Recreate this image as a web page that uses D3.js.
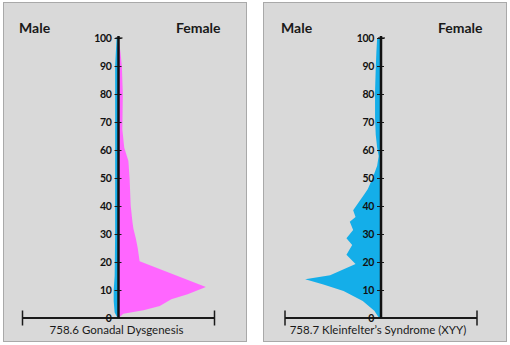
<!DOCTYPE html>
<html><head><meta charset="utf-8">
<script src="https://cdn.jsdelivr.net/npm/d3@7"></script>
<style>
html,body{margin:0;padding:0;background:#fff;}
svg{display:block;}
</style></head>
<body>
<svg id="c" width="510" height="345"></svg>
<script>
// ---- data ----
const yTicks = [0,10,20,30,40,50,60,70,80,90,100];
const sideLabels = ["Male","Female"];
const chartTitles = ["758.6 Gonadal Dysgenesis","758.7 Kleinfelter\u2019s Syndrome (XYY)"];

// Panel 1: Gonadal Dysgenesis
const gonadalFemaleAge = [0,1.5,2.8,4.3,6.7,8.5,11.1,20.3,25,28.5,32,34.4,40.2,49.6,56.1,60.8,67.3,80,90,95,100];
const gonadalFemaleVal = [0,5,26,43,55,72,91,22,20,18,15.5,14.5,12.7,11.6,10.3,6,4,4.5,3.5,2,0];
const gonadalMaleAge = [0,2,6,10,15,30,60,90,100];
const gonadalMaleVal = [1,4,5,5,4,3.5,3.5,3.5,2];

// Panel 2: Kleinfelter's Syndrome
const kleinMaleAge = [0,2.6,6.1,9.6,12,13.8,15.3,19.3,22.6,26.1,28.5,31.4,34.4,36.1,38.5,44.4,46.1,50.2,54.4,57.9,60.8,65.5,71.4,81,89,95,100];
const kleinMaleVal = [2,7,19,39,60,79,53,26.5,36,30,36,29,32.5,26.5,29,17,13.7,8.5,4,2.4,4,5.5,6.2,6.2,5.5,4.8,4];
const kleinFemaleAge = [];
const kleinFemaleVal = [];

// ---- layout ----
const panels = [
  {x0:3, x1:247, cx:118.5, title:chartTitles[0], tdx:-2,
   male: gonadalMaleAge.map((a,i)=>({age:a,v:gonadalMaleVal[i]})),
   female: gonadalFemaleAge.map((a,i)=>({age:a,v:gonadalFemaleVal[i]})),
   maleLbl:19, femLbl:176},
  {x0:263, x1:507, cx:381, title:chartTitles[1], tdx:-3,
   male: kleinMaleAge.map((a,i)=>({age:a,v:kleinMaleVal[i]})),
   female: kleinFemaleAge.map((a,i)=>({age:a,v:kleinFemaleVal[i]})),
   maleLbl:281, femLbl:438}
];
const PINK = "#ff66ff", BLUE = "#14aee9";

const svg = d3.select("#c");
const y = d3.scaleLinear().domain([0,100]).range([318,38]);

panels.forEach(p=>{
  const g = svg.append("g");
  g.append("rect").attr("x",p.x0+0.5).attr("y",2.5).attr("width",p.x1-p.x0-1).attr("height",339)
    .attr("fill","#d9d9d9").attr("stroke","#a9a9a9").attr("stroke-width",1);

  const x = d3.scaleLinear().domain([-100,100]).range([p.cx-96,p.cx+96]);

  const femArea = d3.area().x0(x(0)).x1(d=>x(d.v)).y(d=>y(d.age));
  const maleArea = d3.area().x0(x(0)).x1(d=>x(-d.v)).y(d=>y(d.age));
  if (p.female.length) g.append("path").datum(p.female).attr("d",femArea).attr("fill",PINK);
  if (p.male.length) g.append("path").datum(p.male).attr("d",maleArea).attr("fill",BLUE);

  // horizontal base line with end caps
  const y0 = y(0);
  g.append("line").attr("x1",x(-100)).attr("x2",x(100)).attr("y1",y0).attr("y2",y0)
    .attr("stroke","#1a1a1a").attr("stroke-width",2);
  [-100,100].forEach(v=>{
    g.append("line").attr("x1",x(v)).attr("x2",x(v)).attr("y1",y0-7.5).attr("y2",y0+7.5)
      .attr("stroke","#1a1a1a").attr("stroke-width",1.5);
  });

  // vertical axis
  const ax = g.append("g").attr("transform",`translate(${x(0)},0)`)
    .call(d3.axisLeft(y).tickValues(yTicks).tickSize(4).tickPadding(3).tickFormat(d3.format("d")));
  ax.select(".domain").remove();
  ax.selectAll(".tick line").attr("stroke","#1a1a1a").attr("x2",-4).attr("x1",3);
  ax.selectAll(".tick text").attr("font-family","Lato, 'Open Sans', sans-serif")
    .attr("font-weight","bold").attr("font-size","10.5px").attr("letter-spacing","-0.3px").attr("fill","#111");
  g.append("line").attr("x1",x(0)).attr("x2",x(0)).attr("y1",y(0)).attr("y2",y(100)-2)
    .attr("stroke","#111").attr("stroke-width",2.5);
  g.append("line").attr("x1",x(0)-3).attr("x2",x(0)+4).attr("y1",y(100)).attr("y2",y(100))
    .attr("stroke","#111").attr("stroke-width",1.2);

  // side labels
  g.append("text").attr("x",p.maleLbl).attr("y",33).text(sideLabels[0])
    .attr("font-family","Lato, sans-serif").attr("font-weight","bold").attr("font-size","14px").attr("fill","#1a1a1a");
  g.append("text").attr("x",p.femLbl).attr("y",33).text(sideLabels[1])
    .attr("font-family","Lato, sans-serif").attr("font-weight","bold").attr("font-size","14px").attr("fill","#1a1a1a");

  // title
  g.append("text").attr("x",x(0)+p.tdx).attr("y",334).attr("text-anchor","middle").text(p.title)
    .attr("font-family","Lato, sans-serif").attr("font-size","11.5px").attr("fill","#1a1a1a");
});
</script>
</body></html>
